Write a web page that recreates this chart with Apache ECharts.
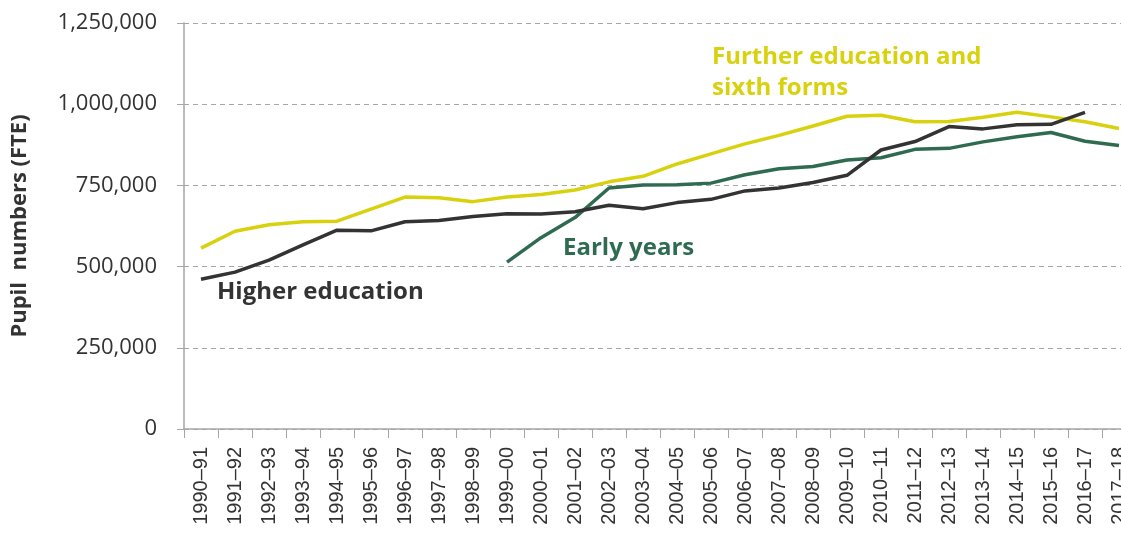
<!DOCTYPE html>
<html>
<head>
<meta charset="utf-8">
<script src="https://cdn.jsdelivr.net/npm/echarts@6/dist/echarts.min.js"></script>
<style>
  html, body { margin: 0; padding: 0; background: #fff; }
  #chart { width: 1121px; height: 535px; }
</style>
</head>
<body>
<div id="chart"></div>
<script>
// academic years on the x axis
var years = ['1990–91','1991–92','1992–93','1993–94','1994–95','1995–96','1996–97','1997–98',
  '1998–99','1999–00','2000–01','2001–02','2002–03','2003–04','2004–05','2005–06','2006–07',
  '2007–08','2008–09','2009–10','2010–11','2011–12','2012–13','2013–14','2014–15','2015–16',
  '2016–17','2017–18'];

// pupil numbers (FTE)
var furtherEd = [557000, 609000, 629000, 638000, 640000, 677000, 714000, 712000, 700000, 714000,
  722000, 736000, 761000, 778000, 816000, 847000, 878000, 904000, 933000, 963000,
  966000, 946000, 947000, 960000, 975000, 961000, 946000, 925000];
var higherEd = [461000, 483000, 520000, 567000, 612000, 610000, 638000, 642000, 654000, 663000,
  662000, 669000, 689000, 678000, 697000, 707000, 733000, 742000, 759000, 781000,
  859000, 885000, 931000, 924000, 937000, 938000, 975000, null];
var earlyYears = [null, null, null, null, null, null, null, null, null, 514000,
  589000, 651000, 742000, 751000, 752000, 757000, 783000, 801000, 808000, 828000,
  835000, 861000, 864000, 884000, 900000, 913000, 886000, 873000];

var yTicks = [0, 250000, 500000, 750000, 1000000, 1250000];

var colYellow = '#d8d10e';
var colBlack = '#333333';
var colGreen = '#2e6b50';
var font = '"Open Sans", "Noto Sans", sans-serif';

function fmt(v) {
  return v.toString().replace(/\B(?=(\d{3})+(?!\d))/g, ',');
}

var myChart = echarts.init(document.getElementById('chart'), null, {renderer: 'canvas'});

var option = {
  backgroundColor: '#fff',
  animation: false,
  // plot runs past the right edge, the last year is cut off like in the picture
  grid: {left: 184, top: 23, width: 952, height: 406, containLabel: false, outerBoundsMode: 'none'},
  xAxis: {
    type: 'category',
    data: years,
    boundaryGap: true,
    axisLine: {lineStyle: {color: '#a6a6a6', width: 1.5}},
    axisTick: {show: true, length: 9, inside: false, lineStyle: {color: '#a6a6a6'}},
    axisLabel: {
      rotate: 90, interval: 0, margin: 18,
      color: '#333', fontFamily: '"Liberation Sans", Arial, sans-serif', fontSize: 20
    },
    splitLine: {show: false}
  },
  yAxis: {
    type: 'value',
    min: yTicks[0],
    max: yTicks[yTicks.length - 1],
    interval: 250000,
    name: 'Pupil  numbers (FTE)',
    nameLocation: 'middle',
    nameGap: 153,
    nameRotate: 90,
    nameTextStyle: {color: '#333', fontFamily: font, fontSize: 22, fontWeight: 'bold'},
    axisLine: {show: true, lineStyle: {color: '#a6a6a6', width: 1.5}},
    axisTick: {show: true, length: 7, inside: false, lineStyle: {color: '#a6a6a6'}},
    axisLabel: {
      margin: 27, color: '#333', fontFamily: font, fontSize: 22,
      formatter: function (v) { return fmt(v); }
    },
    splitLine: {show: true, lineStyle: {color: '#a6a6a6', type: [5, 4], width: 1.2}}
  },
  series: [
    {
      name: 'Further education and sixth forms', type: 'line', data: furtherEd,
      symbol: 'none', lineStyle: {color: colYellow, width: 3.5}, z: 2
    },
    {
      name: 'Early years', type: 'line', data: earlyYears,
      symbol: 'none', lineStyle: {color: colGreen, width: 3.5}, z: 3
    },
    {
      name: 'Higher education', type: 'line', data: higherEd,
      symbol: 'none', lineStyle: {color: colBlack, width: 3.5}, z: 4
    }
  ],
  graphic: [
    {
      type: 'text', left: 712, top: 42,
      style: {
        text: 'Further education and\nsixth forms', fill: colYellow,
        font: 'bold 24px ' + font, lineHeight: 31
      }
    },
    {
      type: 'text', left: 217, top: 280,
      style: {text: 'Higher education', fill: colBlack, font: 'bold 24px ' + font}
    },
    {
      type: 'text', left: 563, top: 236,
      style: {text: 'Early years', fill: colGreen, font: 'bold 24px ' + font}
    }
  ]
};

myChart.setOption(option);
</script>
</body>
</html>
